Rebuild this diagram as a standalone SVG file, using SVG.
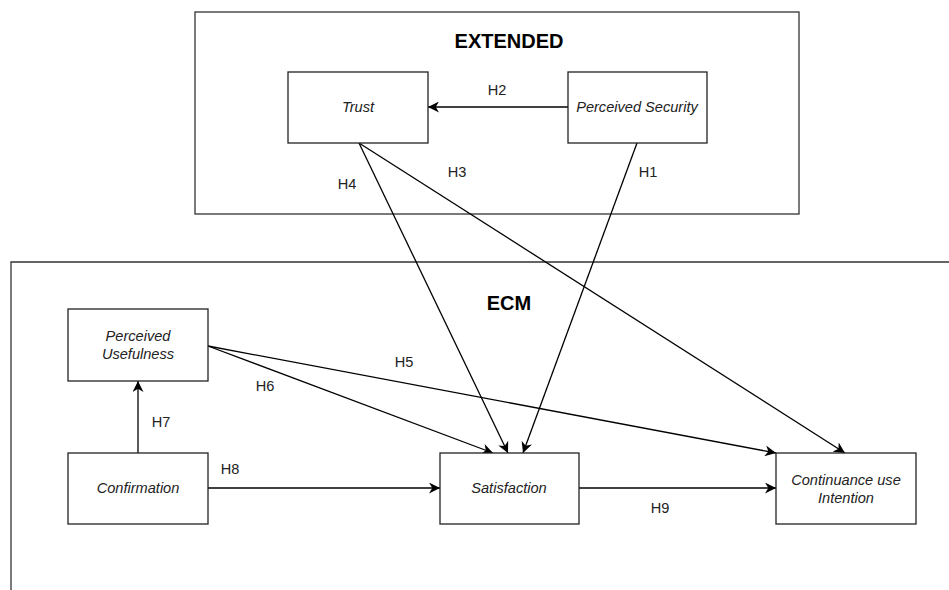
<svg xmlns="http://www.w3.org/2000/svg" width="949" height="590" viewBox="0 0 949 590">
  <defs>
    <marker id="arr" viewBox="0 0 10 10" refX="10" refY="5" markerWidth="11" markerHeight="11" markerUnits="userSpaceOnUse" orient="auto">
      <path d="M0,0 L10,5 L0,10 L3,5 z" fill="#000"/>
    </marker>
  </defs>
  <style>
    .frame { fill: none; stroke: #333; stroke-width: 1.3; }
    .box { fill: #fff; stroke: #222; stroke-width: 1.3; }
    .title { font-family: "Liberation Sans", Arial, sans-serif; font-size: 20px; font-weight: bold; fill: #000; text-anchor: middle; }
    .lbl { font-family: "Liberation Sans", Arial, sans-serif; font-size: 14.6px; font-style: italic; fill: #222; text-anchor: middle; }
    .h { font-family: "Liberation Sans", Arial, sans-serif; font-size: 14.6px; fill: #222; text-anchor: middle; }
    .con { fill: none; stroke: #000; stroke-width: 1.3; marker-end: url(#arr); }
  </style>
  <rect width="949" height="590" fill="#fff"/>

  <g id="extended">
    <rect class="frame" x="195" y="12" width="604" height="202"/>
    <text class="title" x="509" y="48">EXTENDED</text>
  </g>
  <g id="ecm">
    <path class="frame" d="M11,592 L11,262 L952,262"/>
    <text class="title" x="509" y="310">ECM</text>
  </g>

  <g id="connectors">
    <line class="con" x1="568" y1="107" x2="428" y2="107"/>
    <line class="con" x1="359" y1="143" x2="508" y2="453"/>
    <line class="con" x1="359" y1="143" x2="845" y2="453"/>
    <line class="con" x1="637" y1="143" x2="523" y2="453"/>
    <line class="con" x1="208" y1="346" x2="776" y2="453"/>
    <line class="con" x1="208" y1="346" x2="493" y2="453"/>
    <line class="con" x1="138" y1="453" x2="138" y2="381"/>
    <line class="con" x1="208" y1="488" x2="440" y2="488"/>
    <line class="con" x1="579" y1="488" x2="776" y2="488"/>
    <text class="h" x="497" y="95">H2</text>
    <text class="h" x="347" y="189">H4</text>
    <text class="h" x="457" y="177">H3</text>
    <text class="h" x="648" y="177">H1</text>
    <text class="h" x="404" y="367">H5</text>
    <text class="h" x="265" y="391">H6</text>
    <text class="h" x="161" y="427">H7</text>
    <text class="h" x="230" y="474">H8</text>
    <text class="h" x="660" y="513">H9</text>
  </g>

  <g id="trust">
    <rect class="box" x="288" y="72" width="140" height="71"/>
    <text class="lbl" x="358" y="112">Trust</text>
  </g>
  <g id="perceived-security">
    <rect class="box" x="568" y="72" width="139" height="71"/>
    <text class="lbl" x="637" y="112">Perceived Security</text>
  </g>
  <g id="perceived-usefulness">
    <rect class="box" x="68" y="309" width="140" height="72"/>
    <text class="lbl" x="138" y="341">Perceived</text>
    <text class="lbl" x="138" y="359">Usefulness</text>
  </g>
  <g id="confirmation">
    <rect class="box" x="68" y="453" width="140" height="71"/>
    <text class="lbl" x="138" y="493">Confirmation</text>
  </g>
  <g id="satisfaction">
    <rect class="box" x="440" y="453" width="139" height="71"/>
    <text class="lbl" x="509" y="493">Satisfaction</text>
  </g>
  <g id="continuance">
    <rect class="box" x="776" y="453" width="140" height="71"/>
    <text class="lbl" x="846" y="485">Continuance use</text>
    <text class="lbl" x="846" y="503">Intention</text>
  </g>
</svg>
